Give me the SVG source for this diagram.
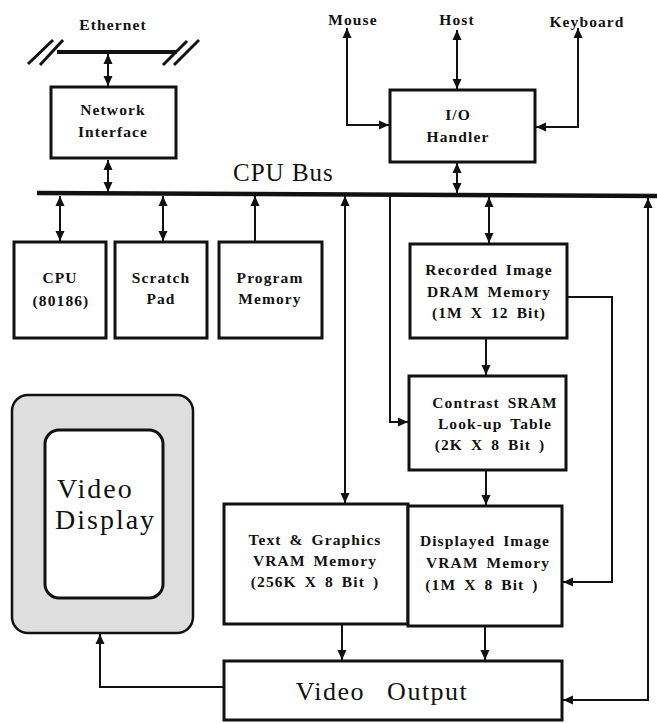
<svg xmlns="http://www.w3.org/2000/svg" width="657" height="723" viewBox="0 0 657 723">
<style>
.box{fill:#fff;stroke:#111;stroke-width:3}
.lbl{font-family:"Liberation Serif",serif;font-weight:bold;font-size:15.5px;letter-spacing:1.1px;word-spacing:3px;fill:#111;text-anchor:middle}
.big{font-family:"Liberation Serif",serif;fill:#111}
.ln{fill:none;stroke:#111;stroke-width:2}
.a2{marker-start:url(#ah);marker-end:url(#ah)}
.a1{marker-end:url(#ah)}
</style>
<defs>
<marker id="ah" viewBox="0 0 10 10" refX="10" refY="5" markerWidth="10" markerHeight="10" markerUnits="userSpaceOnUse" orient="auto-start-reverse">
<path d="M0,0.5 L10,5 L0,9.5 z" fill="#111"/>
</marker>
</defs>
<rect width="657" height="723" fill="#fff"/>

<g id="ethernet">
<text class="lbl" x="113" y="30">Ethernet</text>
<line x1="57" y1="52" x2="177" y2="52" stroke="#111" stroke-width="4"/>
<line x1="28" y1="64" x2="53" y2="40" stroke="#111" stroke-width="3"/>
<line x1="40" y1="65" x2="63" y2="40" stroke="#111" stroke-width="3"/>
<line x1="163" y1="65" x2="187" y2="41" stroke="#111" stroke-width="3"/>
<line x1="174" y1="65" x2="199" y2="40" stroke="#111" stroke-width="3"/>
</g>

<g id="mouse"><text class="lbl" x="353" y="25">Mouse</text></g>
<g id="host"><text class="lbl" x="457" y="25">Host</text></g>
<g id="keyboard"><text class="lbl" x="587" y="27">Keyboard</text></g>

<g id="network-interface">
<rect class="box" x="51" y="87" width="125" height="71"/>
<text class="lbl" x="113" y="115">Network</text>
<text class="lbl" x="113" y="137">Interface</text>
</g>

<g id="io-handler">
<rect class="box" x="390" y="90" width="145" height="72"/>
<text class="lbl" x="458" y="120">I/O</text>
<text class="lbl" x="458" y="142">Handler</text>
</g>

<g id="cpu-bus">
<line x1="37" y1="193" x2="657" y2="196" stroke="#111" stroke-width="4.5"/>
<text class="big" x="233" y="181" font-size="25" letter-spacing="1">CPU Bus</text>
</g>

<g id="cpu">
<rect class="box" x="14" y="242" width="92" height="96"/>
<text class="lbl" x="60" y="283">CPU</text>
<text class="lbl" x="61" y="306" letter-spacing="2.5">(80186)</text>
</g>

<g id="scratch-pad">
<rect class="box" x="115" y="242" width="92" height="96"/>
<text class="lbl" x="161" y="283">Scratch</text>
<text class="lbl" x="161" y="304">Pad</text>
</g>

<g id="program-memory">
<rect class="box" x="219" y="242" width="103" height="96"/>
<text class="lbl" x="270" y="283">Program</text>
<text class="lbl" x="270" y="304">Memory</text>
</g>

<g id="recorded-image">
<rect class="box" x="410" y="244" width="157" height="94"/>
<text class="lbl" x="489" y="275">Recorded  Image</text>
<text class="lbl" x="489" y="297">DRAM Memory</text>
<text class="lbl" x="489" y="318">(1M X 12 Bit)</text>
</g>

<g id="contrast-sram">
<rect class="box" x="409" y="376" width="157" height="94"/>
<text class="lbl" x="495" y="408">Contrast SRAM</text>
<text class="lbl" x="495" y="429">Look-up Table</text>
<text class="lbl" x="490" y="450">(2K X 8 Bit )</text>
</g>

<g id="text-graphics">
<rect class="box" x="224" y="504" width="184" height="120"/>
<text class="lbl" x="315" y="545">Text &amp; Graphics</text>
<text class="lbl" x="315" y="566">VRAM  Memory</text>
<text class="lbl" x="315" y="587">(256K X 8 Bit )</text>
</g>

<g id="displayed-image">
<rect class="box" x="408" y="506" width="154" height="120"/>
<text class="lbl" x="485" y="546">Displayed  Image</text>
<text class="lbl" x="488" y="568">VRAM  Memory</text>
<text class="lbl" x="482" y="590">(1M X 8 Bit )</text>
</g>

<g id="video-output">
<rect class="box" x="224" y="661" width="338" height="59"/>
<text class="big" x="382" y="700" text-anchor="middle" font-size="26" letter-spacing="1.5" word-spacing="14">Video Output</text>
</g>

<g id="video-display">
<rect x="12" y="395" width="181" height="238" rx="16" fill="#dedede" stroke="#111" stroke-width="2.5"/>
<rect x="45" y="430" width="118" height="168" rx="14" fill="#fff" stroke="#111" stroke-width="3"/>
<text class="big" x="57" y="498" font-size="28" letter-spacing="2">Video</text>
<text class="big" x="55" y="529" font-size="28" letter-spacing="2">Display</text>
</g>

<g id="connectors">
<line class="ln a2" x1="108" y1="54" x2="108" y2="86"/>
<line class="ln a2" x1="108" y1="160" x2="108" y2="192"/>
<line class="ln a2" x1="457" y1="30" x2="457" y2="89"/>
<polyline class="ln a2" points="347,28 347,125 389,125"/>
<polyline class="ln a2" points="578,28 578,127 536,127"/>
<line class="ln a2" x1="457" y1="163" x2="457" y2="193"/>
<line class="ln a2" x1="60" y1="196" x2="60" y2="241"/>
<line class="ln a2" x1="163" y1="196" x2="163" y2="241"/>
<line class="ln a1" x1="255" y1="241" x2="255" y2="196"/>
<line class="ln a2" x1="345" y1="196" x2="345" y2="503"/>
<polyline class="ln a1" points="390,196 390,422 408,422"/>
<line class="ln a2" x1="489" y1="197" x2="489" y2="243"/>
<line class="ln a1" x1="486" y1="339" x2="486" y2="375"/>
<polyline class="ln a1" points="567,297 612,297 612,582 563,582"/>
<line class="ln a1" x1="486" y1="471" x2="486" y2="505"/>
<line class="ln a1" x1="342" y1="625" x2="342" y2="660"/>
<line class="ln a1" x1="485" y1="627" x2="485" y2="660"/>
<polyline class="ln a2" points="648,198 648,700 563,700"/>
<polyline class="ln a1" points="223,687 100,687 100,634"/>
</g>
</svg>
